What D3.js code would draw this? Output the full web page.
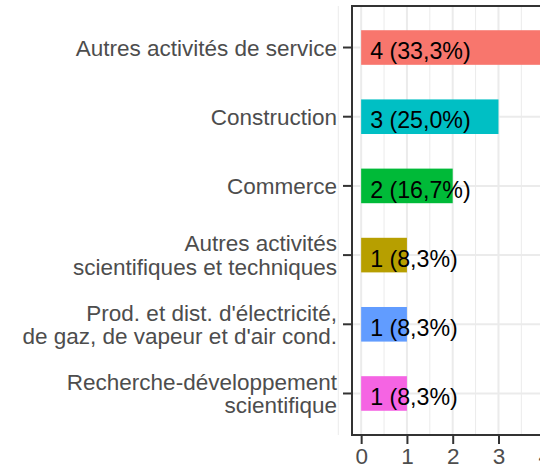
<!DOCTYPE html>
<html>
<head>
<meta charset="utf-8">
<script src="https://cdn.jsdelivr.net/npm/d3@7"></script>
<style>
  body { margin: 0; background: #fff; }
  text { font-family: "Liberation Sans", Arial, sans-serif; }
</style>
</head>
<body>
<div id="chart"></div>
<script>
// chart data
var categories = [
  "Autres activités de service",
  "Construction",
  "Commerce",
  "Autres activités\nscientifiques et techniques",
  "Prod. et dist. d'électricité,\nde gaz, de vapeur et d'air cond.",
  "Recherche-développement\nscientifique"
];
var counts = [4, 3, 2, 1, 1, 1];
var percents = ["33,3", "25,0", "16,7", "8,3", "8,3", "8,3"];
var barColors = ["#F8766D", "#00BFC4", "#00BA38", "#B79F00", "#619CFF", "#F564E3"];
var xTicks = [0, 1, 2, 3, 4];

var svgWidth = 540;
var svgHeight = 470;

// panel runs off the right edge of the picture
var panel = { left: 352, top: 6, right: 553.4, bottom: 435 };

var svg = d3.select("#chart")
  .append("svg")
  .attr("width", svgWidth)
  .attr("height", svgHeight);

var data = categories.map(function(c, i) {
  return { cat: c, n: counts[i], pct: percents[i], color: barColors[i] };
});

var xScale = d3.scaleLinear()
  .domain([-0.2, 4.2])
  .range([panel.left, panel.right]);

var yScale = d3.scaleBand()
  .domain(categories)
  .range([panel.top, panel.bottom])
  .paddingInner(0)
  .paddingOuter(0.1);

var bw = yScale.bandwidth();

// grid lines
var minor = d3.range(-0.5, 4.6, 1);
svg.append("g").selectAll("line")
  .data(minor)
  .enter()
  .append("line")
  .attr("x1", d => xScale(d))
  .attr("x2", d => xScale(d))
  .attr("y1", panel.top)
  .attr("y2", panel.bottom)
  .attr("stroke", "#EBEBEB")
  .attr("stroke-width", 1);

svg.append("g").selectAll("line")
  .data(xTicks)
  .enter()
  .append("line")
  .attr("x1", d => xScale(d))
  .attr("x2", d => xScale(d))
  .attr("y1", panel.top)
  .attr("y2", panel.bottom)
  .attr("stroke", "#EBEBEB")
  .attr("stroke-width", 2);

svg.append("g").selectAll("line")
  .data(categories)
  .enter()
  .append("line")
  .attr("x1", panel.left)
  .attr("x2", panel.right)
  .attr("y1", d => yScale(d) + bw / 2)
  .attr("y2", d => yScale(d) + bw / 2)
  .attr("stroke", "#EBEBEB")
  .attr("stroke-width", 2);

// bars
svg.append("g").selectAll("rect")
  .data(data)
  .enter()
  .append("rect")
  .attr("x", xScale(0))
  .attr("y", d => yScale(d.cat) + bw * 0.25)
  .attr("width", d => xScale(d.n) - xScale(0))
  .attr("height", bw * 0.5)
  .attr("fill", d => d.color);

// bar labels
svg.append("g").selectAll("text")
  .data(data)
  .enter()
  .append("text")
  .attr("x", xScale(0) + 9)
  .attr("y", d => yScale(d.cat) + bw / 2)
  .attr("dy", "0.5em")
  .attr("font-size", 23.2)
  .attr("fill", "#000")
  .text(d => d.n + " (" + d.pct + "%)");

// panel border
svg.append("rect")
  .attr("x", panel.left)
  .attr("y", panel.top)
  .attr("width", panel.right - panel.left)
  .attr("height", panel.bottom - panel.top)
  .attr("fill", "none")
  .attr("stroke", "#333333")
  .attr("stroke-width", 2);

// axes
var leftAxis = d3.axisLeft(yScale).tickSize(8).tickPadding(6);
var yAxisG = svg.append("g")
  .attr("transform", `translate(${panel.left - 1}, 0)`)
  .call(leftAxis);

var bottomAxis = d3.axisBottom(xScale)
  .tickValues(xTicks)
  .tickFormat(d3.format("d"))
  .tickSize(8)
  .tickPadding(4);
var xAxisG = svg.append("g")
  .attr("transform", `translate(0, ${panel.bottom + 1})`)
  .call(bottomAxis);

[yAxisG, xAxisG].forEach(function(g) {
  g.select(".domain").remove();
  g.selectAll(".tick line").attr("stroke", "#333333").attr("stroke-width", 2);
  g.selectAll(".tick text")
    .attr("fill", "#4D4D4D")
    .attr("font-size", 22.5)
    .attr("font-family", "'Liberation Sans', Arial, sans-serif");
});

// multi-line category labels
yAxisG.selectAll(".tick text").each(function(d) {
  var lines = d.split("\n");
  var t = d3.select(this).text(null).attr("dy", null);
  var lh = 23.5;
  lines.forEach(function(l, i) {
    t.append("tspan")
      .attr("x", -14)
      .attr("y", (i - (lines.length - 1) / 2) * lh)
      .attr("dy", "0.36em")
      .text(l);
  });
});
</script>
</body>
</html>
